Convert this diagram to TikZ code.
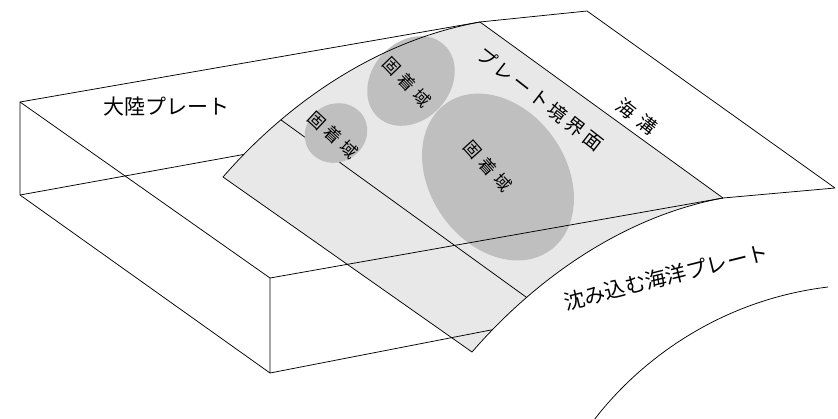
\documentclass[tikz,border=0pt]{standalone}
\usepackage{fontspec}
\newfontfamily\jp{Noto Sans CJK JP}
\newfontfamily\jpz[LetterSpace=28]{Noto Sans CJK JP}
\newfontfamily\jps[LetterSpace=18]{Noto Sans CJK JP}
\newfontfamily\jpk[LetterSpace=38]{Noto Sans CJK JP}
\begin{document}
\begin{tikzpicture}[x=1pt,y=-1pt,
  edge/.style={draw=black, line width=0.75pt, line join=round},
  sheet/.style={fill=black!9},
  zonefill/.style={fill=black!25},
  lbl/.style={font=\jp\fontsize{21}{21}\selectfont, inner sep=0pt},
  slbl/.style={font=\jps\fontsize{19}{19}\selectfont, inner sep=0pt},
  klbl/.style={font=\jpk\fontsize{19}{19}\selectfont, inner sep=0pt},
  zlbl/.style={font=\jpz\fontsize{17}{17}\selectfont, inner sep=0pt}]
\useasboundingbox (0,0) rectangle (838,418);
% key points
\coordinate (P1) at (20,102);
\coordinate (P2) at (270,278);
\coordinate (P3) at (270,373);
\coordinate (P4) at (20,195);
\coordinate (A) at (223,177);
\coordinate (B) at (480,22);
\coordinate (Bp) at (723,198);
\coordinate (Ap) at (472,352);
\coordinate (T) at (587,11);
\coordinate (Tp) at (835,188);
\coordinate (L1) at (828,287);
\coordinate (L2) at (594,420);
% points on the curves
\path (A) .. controls (290,100) and (380,40) .. coordinate[pos=0.1] (F1) coordinate[pos=0.265] (F2) (B);
\path (Ap) .. controls (538,276) and (626,216) .. coordinate[pos=0.1] (N1) coordinate[pos=0.255] (N2) (Bp);
% plate interface sheet
\path[sheet] (A) .. controls (290,100) and (380,40) .. (B) -- (Bp)
   .. controls (626,216) and (538,276) .. (Ap) -- cycle;
\draw[edge] (F2) -- (N2);
% locked zones
\fill[zonefill, rotate around={48:(411,81)}] (411,81) ellipse [x radius=49, y radius=39];
\fill[zonefill, rotate around={30:(336,133)}] (336,133) ellipse [x radius=32, y radius=29];
\fill[zonefill, rotate around={-55:(498,177)}] (498,177) ellipse [x radius=90, y radius=68];
% continental block
\draw[edge] (P1) -- (B);
\draw[edge] (P1) -- (P4) -- (P3) -- (P2) -- cycle;
\draw[edge] (P2) -- (Bp);
\draw[edge] (P4) -- (F1);
\draw[edge] (P3) -- (N1);
% oceanic plate surface and trench
\draw[edge] (B) -- (T) -- (Tp) -- (Bp);
\draw[edge] (B) -- (Bp);
% sheet outline
\draw[edge] (A) .. controls (290,100) and (380,40) .. (B);
\draw[edge] (Ap) .. controls (538,276) and (626,216) .. (Bp);
\draw[edge] (A) -- (Ap);
% lower surface of the slab
\draw[edge] (L1) .. controls (720,300) and (640,360) .. (L2);
% labels
\node[lbl] (tairiku) at (166,107) {大陸プレート};
\node[zlbl, rotate=-46] (z1) at (407,82) {固着域};
\node[zlbl, rotate=-43] (z2) at (333,135) {固着域};
\node[zlbl, rotate=-48] (z3) at (488,166) {固着域};
\node[slbl, rotate=-38] (kyokai) at (540,99) {プレート境界面};
\node[klbl, rotate=-38] (kaiko) at (637,117) {海溝};
\node[lbl, rotate=14] (kaiyo) at (666,277) {沈み込む海洋プレート};
\end{tikzpicture}
\end{document}
